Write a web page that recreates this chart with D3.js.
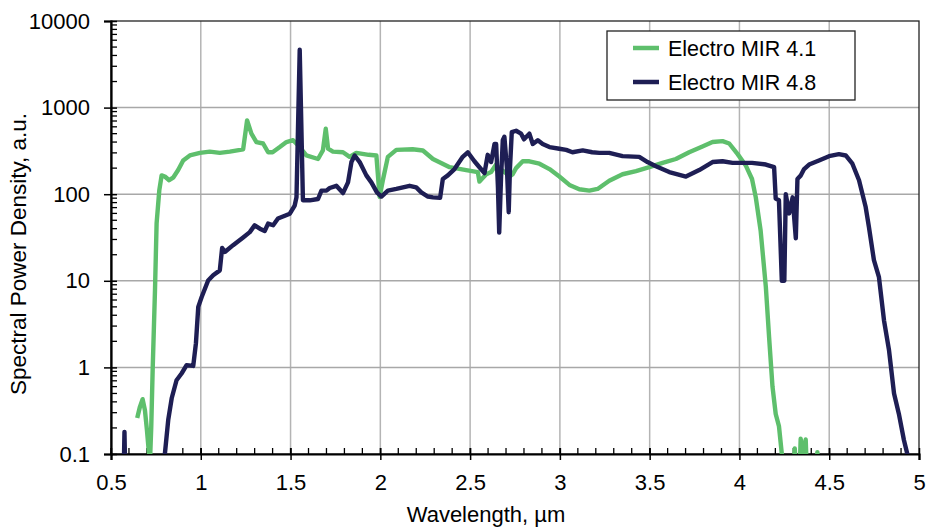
<!DOCTYPE html>
<html>
<head>
<meta charset="utf-8">
<script src="https://cdn.jsdelivr.net/npm/d3@7"></script>
<style>
  body { margin: 0; background: #fff; }
  text { font-family: "Liberation Sans", Arial, sans-serif; fill: #000; }
</style>
</head>
<body>
<div id="chart"></div>
<script>
// series names
var seriesNames = ["Electro MIR 4.1", "Electro MIR 4.8"];

// Electro MIR 4.1 (green) -- wavelength (um) / spectral power density
var waveA = [0.646,0.661,0.676,0.689,0.700,0.710,0.717,0.724,0.732,0.745,0.754,0.769,0.782,0.800,0.824,0.846,0.874,0.902,0.939,0.995,
  1.050,1.106,1.162,1.236,1.258,1.282,1.310,1.347,1.375,1.400,1.440,1.477,1.514,1.551,1.588,1.653,1.680,1.696,1.709,1.736,
  1.792,1.829,1.866,1.935,1.978,1.996,2.014,2.042,2.089,2.180,2.237,2.293,2.386,2.478,2.543,2.552,2.565,2.590,2.617,2.645,
  2.660,2.700,2.720,2.737,2.756,2.793,2.830,2.886,2.942,2.997,3.053,3.108,3.164,3.210,3.275,3.349,3.424,3.498,3.572,3.646,
  3.720,3.794,3.850,3.906,3.943,3.990,4.035,4.070,4.091,4.118,4.147,4.165,4.184,4.202,4.220,4.236,4.245,
  4.300,4.308,4.316,4.335,4.341,4.355,4.369,4.376,4.428,4.434,4.440];
var psdA = [0.26,0.35,0.43,0.32,0.19,0.11,0.08,0.2,0.93,7.8,46,111,165,160,145,155,190,245,280,300,
  310,300,310,330,712,500,400,385,305,305,350,400,420,350,280,255,320,570,335,310,
  305,270,300,285,280,93,145,270,325,330,320,255,205,190,180,140,150,170,180,220,
  200,175,160,170,200,240,240,225,195,160,128,114,110,115,143,170,185,205,230,255,
  305,355,400,410,385,290,215,150,92,38,8.5,2.25,0.6,0.29,0.21,0.1,0.06,
  0.06,0.116,0.06,0.06,0.15,0.1,0.147,0.06,0.06,0.105,0.06];

// Electro MIR 4.8 (navy)
var waveB = [0.570,0.575,0.580,0.795,0.800,0.819,0.838,0.865,0.893,0.921,0.958,0.973,0.986,1.005,1.041,1.069,1.106,1.119,1.134,1.180,
  1.236,1.273,1.300,1.329,1.356,1.375,1.403,1.430,1.496,1.523,1.533,1.551,1.569,1.607,1.653,1.672,1.700,1.718,1.755,1.792,
  1.820,1.839,1.857,1.885,1.922,1.950,1.981,2.006,2.042,2.089,2.126,2.163,2.200,2.228,2.265,2.293,2.333,2.348,2.376,2.413,
  2.459,2.487,2.524,2.552,2.580,2.598,2.617,2.636,2.645,2.655,2.662,2.672,2.682,2.691,2.705,2.715,2.722,2.732,2.756,2.784,
  2.800,2.830,2.849,2.877,2.904,2.942,2.997,3.035,3.070,3.127,3.180,3.220,3.275,3.349,3.442,3.488,3.535,3.609,3.702,3.776,
  3.850,3.906,3.962,4.070,4.147,4.193,4.202,4.220,4.236,4.250,4.258,4.277,4.296,4.314,4.323,4.342,4.360,4.388,4.443,4.499,
  4.554,4.592,4.629,4.666,4.703,4.721,4.749,4.777,4.805,4.833,4.861,4.888,4.916,4.935,4.945];
var psdB = [0.05,0.18,0.05,0.05,0.1,0.25,0.44,0.71,0.85,1.06,1.04,1.9,5.0,6.5,10.1,11.6,13.2,24,21.5,25.8,
  31.7,36.5,43.8,40,37.6,45.8,43.8,52.3,59.5,74,92,4650,85,85,88,110,110,118,125,103,
  137,235,280,235,165,137,105,94,110,115,120,125,120,105,94,92,91,150,165,195,
  270,305,240,205,175,285,235,380,380,120,36,150,420,460,200,62,200,520,540,500,
  430,500,380,420,380,350,335,325,305,320,305,300,300,275,270,235,210,180,160,190,
  235,240,230,230,220,205,89,85,10,10,100,60,92,31,150,165,195,220,245,275,
  290,280,225,145,71,42,17.3,11,3.5,1.58,0.5,0.29,0.145,0.1,0.05];

// axis ticks
var xTicks = [0.5, 1, 1.5, 2, 2.5, 3, 3.5, 4, 4.5, 5];
var yTicks = [0.1, 1, 10, 100, 1000, 10000];

var colors = ["#5ebf6c", "#1e1e54"];

var W = 926, H = 527;
var margin = {top: 21, right: 7, bottom: 73, left: 111};
var width  = W - margin.left - margin.right;
var height = H - margin.top - margin.bottom;

var svg = d3.select("#chart").append("svg")
  .attr("width", W)
  .attr("height", H);

var g = svg.append("g")
  .attr("transform", "translate(" + margin.left + "," + margin.top + ")");

var x = d3.scaleLinear().domain([0.5, 5]).range([0, width]);
var y = d3.scaleLog().domain([0.1, 10000]).range([height, 0]);

// grid
g.selectAll(".vgrid").data(xTicks.slice(1, -1)).enter().append("line")
  .attr("x1", function(d) { return x(d); }).attr("x2", function(d) { return x(d); })
  .attr("y1", 0).attr("y2", height)
  .attr("stroke", "#b4b4b4").attr("stroke-width", 1.5);

g.selectAll(".hgrid").data(yTicks.slice(1, -1)).enter().append("line")
  .attr("y1", function(d) { return y(d); }).attr("y2", function(d) { return y(d); })
  .attr("x1", 0).attr("x2", width)
  .attr("stroke", "#a8a8a8").attr("stroke-width", 1.5);

// frame
g.append("rect")
  .attr("width", width).attr("height", height)
  .attr("fill", "none").attr("stroke", "#222").attr("stroke-width", 1.3);

// minor ticks
var xMinor = d3.range(5, 50).map(function(i) { return i / 10; });
g.selectAll(".xminor").data(xMinor).enter().append("line")
  .attr("x1", function(d) { return x(d); }).attr("x2", function(d) { return x(d); })
  .attr("y1", height - 6).attr("y2", height)
  .attr("stroke", "#000").attr("stroke-width", 1.3);

var yMinor = [];
yTicks.slice(0, -1).forEach(function(t) {
  for (var k = 2; k < 10; k++) yMinor.push(t * k);
});
g.selectAll(".yminor").data(yMinor).enter().append("line")
  .attr("y1", function(d) { return y(d); }).attr("y2", function(d) { return y(d); })
  .attr("x1", 0).attr("x2", 6)
  .attr("stroke", "#000").attr("stroke-width", 1.3);

// axes
var xAxis = d3.axisBottom(x).tickValues(xTicks).tickSize(6).tickPadding(14)
  .tickFormat(function(d) { return String(d); });
var yAxis = d3.axisLeft(y).tickValues(yTicks).tickSize(7).tickPadding(14)
  .tickFormat(function(d) { return String(d); });

var gx = g.append("g").attr("transform", "translate(0," + height + ")").call(xAxis);
var gy = g.append("g").call(yAxis);

[gx, gy].forEach(function(a) {
  a.select(".domain").attr("stroke", "#000").attr("stroke-width", 2.2);
  a.selectAll(".tick line").attr("stroke", "#000").attr("stroke-width", 1.5);
  a.selectAll("text").attr("font-size", 22)
    .attr("font-family", "Liberation Sans, Arial, sans-serif");
});
gx.selectAll(".tick line").attr("y1", -6).attr("y2", 6);
gy.selectAll(".tick line").attr("x1", 6).attr("x2", -7);

// lines
svg.append("clipPath").attr("id", "clip").append("rect")
  .attr("width", width).attr("height", height);

var line = d3.line()
  .x(function(d) { return x(d[0]); })
  .y(function(d) { return y(d[1]); });

var series = [d3.zip(waveA, psdA), d3.zip(waveB, psdB)];

g.append("g").attr("clip-path", "url(#clip)")
  .selectAll("path").data(series).enter().append("path")
  .attr("d", line)
  .attr("fill", "none")
  .attr("stroke", function(d, i) { return colors[i]; })
  .attr("stroke-width", 4.4)
  .attr("stroke-linejoin", "round");

// axis titles
svg.append("text")
  .attr("x", 486).attr("y", 522)
  .attr("text-anchor", "middle")
  .attr("font-size", 22)
  .text("Wavelength, µm");

svg.append("text")
  .attr("transform", "translate(26," + 254 + ") rotate(-90)")
  .attr("text-anchor", "middle")
  .attr("font-size", 22.5)
  .text("Spectral Power Density, a.u.");

// legend
var lg = svg.append("g").attr("transform", "translate(607,31)");
lg.append("rect").attr("width", 248).attr("height", 69)
  .attr("fill", "#fff").attr("stroke", "#222").attr("stroke-width", 1.3);

seriesNames.forEach(function(name, i) {
  var ly = 17 + i * 34;
  lg.append("line")
    .attr("x1", 26).attr("x2", 52).attr("y1", ly).attr("y2", ly)
    .attr("stroke", colors[i]).attr("stroke-width", 4.5);
  lg.append("text")
    .attr("x", 61).attr("y", ly + 8)
    .attr("font-size", 21.5)
    .text(name);
});
</script>
</body>
</html>
